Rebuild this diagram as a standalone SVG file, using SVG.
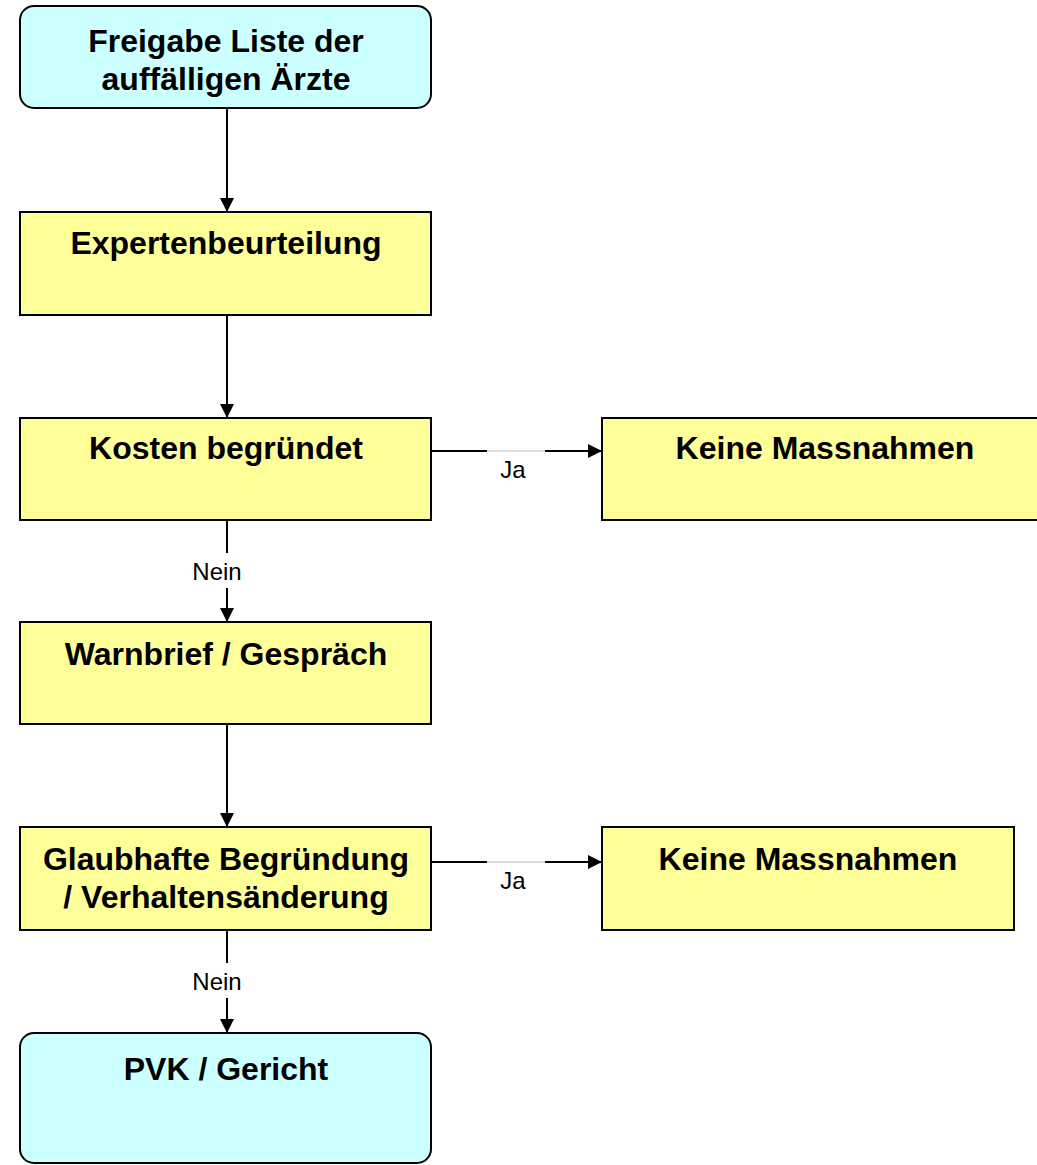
<svg xmlns="http://www.w3.org/2000/svg" width="1037" height="1165" viewBox="0 0 1037 1165">
<style>
.b{stroke:#000;stroke-width:2}
.t{fill:#ccffff}
.y{fill:#ffff99}
.tx{font-family:"Liberation Sans",Arial,sans-serif;font-weight:bold;font-size:32px;text-anchor:middle;fill:#000}
.lb{font-family:"Liberation Sans",Arial,sans-serif;font-size:24px;text-anchor:middle;fill:#000}
.c{stroke:#000;stroke-width:2;fill:none}
.g{stroke:#bbbbbb;stroke-width:1;fill:none}
</style>
<defs>
<marker id="a" viewBox="0 0 14 14" refX="14" refY="7" markerWidth="14" markerHeight="14" markerUnits="userSpaceOnUse" orient="auto">
<path d="M0,0 L14,7 L0,14 Z" fill="#000"/>
</marker>
</defs>
<rect width="1037" height="1165" fill="#fff"/>
<g id="connectors">
<line class="c" x1="227" y1="108" x2="227" y2="212" marker-end="url(#a)"/>
<line class="c" x1="227" y1="315" x2="227" y2="418" marker-end="url(#a)"/>
<line class="c" x1="431" y1="451" x2="487" y2="451"/>
<line class="g" x1="487" y1="451" x2="545" y2="451"/>
<line class="c" x1="545" y1="451" x2="602" y2="451" marker-end="url(#a)"/>
<text class="lb" x="513" y="478">Ja</text>
<line class="c" x1="227" y1="520" x2="227" y2="553"/>
<line class="c" x1="227" y1="588" x2="227" y2="622" marker-end="url(#a)"/>
<text class="lb" x="217" y="580">Nein</text>
<line class="c" x1="227" y1="724" x2="227" y2="827" marker-end="url(#a)"/>
<line class="c" x1="431" y1="862" x2="487" y2="862"/>
<line class="g" x1="487" y1="862" x2="545" y2="862"/>
<line class="c" x1="545" y1="862" x2="602" y2="862" marker-end="url(#a)"/>
<text class="lb" x="513" y="889">Ja</text>
<line class="c" x1="227" y1="930" x2="227" y2="963"/>
<line class="c" x1="227" y1="998" x2="227" y2="1033" marker-end="url(#a)"/>
<text class="lb" x="217" y="990">Nein</text>
</g>
<g id="n1"><rect class="t b" x="20" y="6" width="411" height="102" rx="14"/><text class="tx" x="226" y="52">Freigabe Liste der</text><text class="tx" x="226" y="90">auffälligen Ärzte</text></g>
<g id="n2"><rect class="y b" x="20" y="212" width="411" height="103"/><text class="tx" x="226" y="254">Expertenbeurteilung</text></g>
<g id="n3"><rect class="y b" x="20" y="418" width="411" height="102"/><text class="tx" x="226" y="459">Kosten begründet</text></g>
<g id="n4"><rect class="y b" x="602" y="418" width="446" height="102"/><text class="tx" x="825" y="459">Keine Massnahmen</text></g>
<g id="n5"><rect class="y b" x="20" y="622" width="411" height="102"/><text class="tx" x="226" y="665">Warnbrief / Gespräch</text></g>
<g id="n6"><rect class="y b" x="20" y="827" width="411" height="103"/><text class="tx" x="226" y="870">Glaubhafte Begründung</text><text class="tx" x="226" y="908">/ Verhaltensänderung</text></g>
<g id="n7"><rect class="y b" x="602" y="827" width="412" height="103"/><text class="tx" x="808" y="870">Keine Massnahmen</text></g>
<g id="n8"><rect class="t b" x="20" y="1033" width="411" height="130" rx="14"/><text class="tx" x="226" y="1080">PVK / Gericht</text></g>
</svg>
